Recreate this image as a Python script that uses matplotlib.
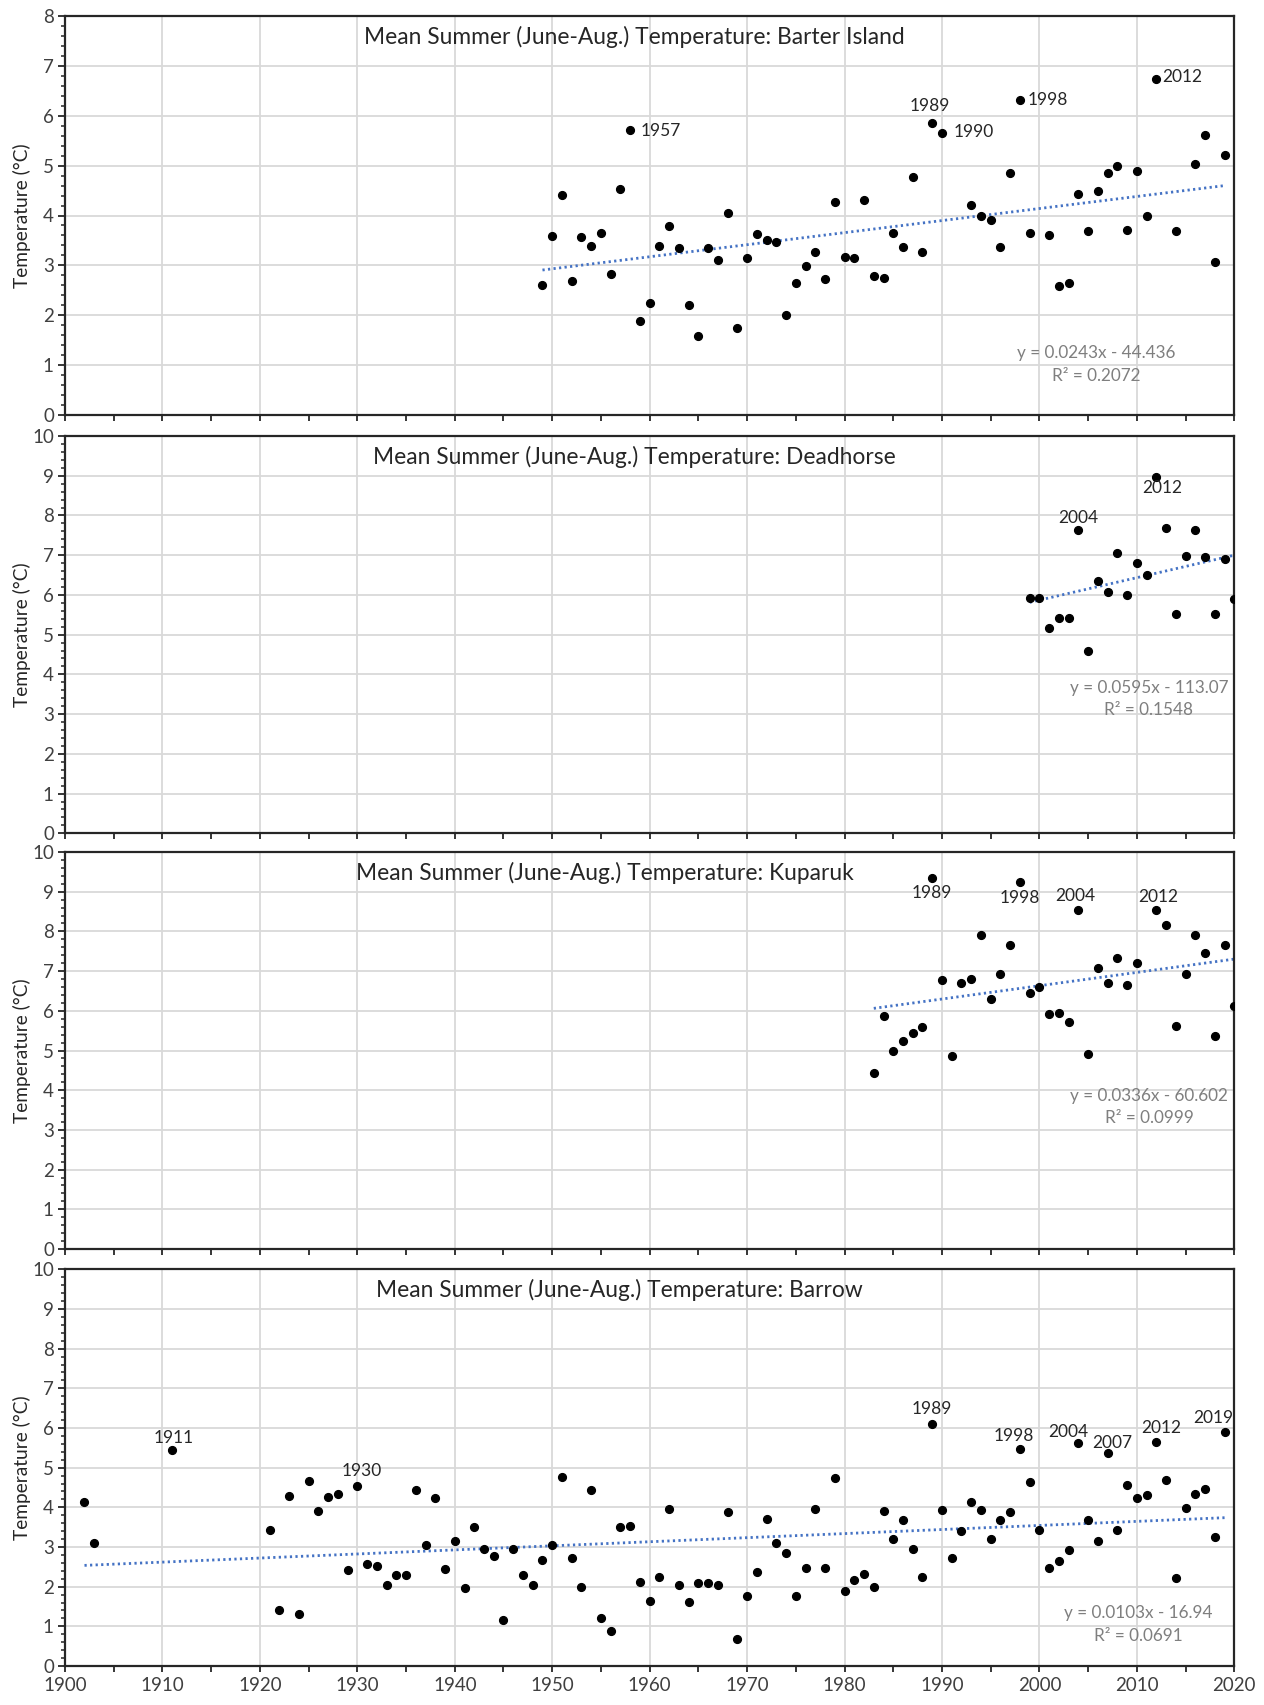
import numpy as np
import matplotlib
matplotlib.use("Agg")
import matplotlib.pyplot as plt
from matplotlib.ticker import MultipleLocator

plt.rcParams['font.family'] = ['Lato', 'DejaVu Sans']

# ---- data ----
barter_years = [1949, 1950, 1951, 1952, 1953, 1954, 1955, 1956, 1957, 1958,
                1959, 1960, 1961, 1962, 1963, 1964, 1965, 1966, 1967, 1968,
                1969, 1970, 1971, 1972, 1973, 1974, 1975, 1976, 1977, 1978,
                1979, 1980, 1981, 1982, 1983, 1984, 1985, 1986, 1987, 1988,
                1989, 1990, 1993, 1994, 1995, 1996, 1997, 1998, 1999, 2001,
                2002, 2003, 2004, 2005, 2006, 2007, 2008, 2009, 2010, 2011,
                2012, 2014, 2016, 2017, 2018, 2019]
barter_temp = [2.60, 3.58, 4.41, 2.68, 3.57, 3.39, 3.64, 2.83, 4.53, 5.72,
               1.89, 2.25, 3.39, 3.79, 3.34, 2.21, 1.58, 3.34, 3.11, 4.05,
               1.74, 3.14, 3.62, 3.51, 3.46, 2.00, 2.65, 2.99, 3.26, 2.73,
               4.27, 3.16, 3.15, 4.31, 2.79, 2.75, 3.64, 3.37, 4.77, 3.26,
               5.86, 5.65, 4.21, 3.99, 3.91, 3.37, 4.85, 6.31, 3.64, 3.60,
               2.59, 2.65, 4.43, 3.68, 4.49, 4.85, 5.00, 3.71, 4.90, 3.99,
               6.73, 3.68, 5.04, 5.62, 3.07, 5.22]

deadhorse_years = list(range(1999, 2021))
deadhorse_temp = [5.92, 5.92, 5.17, 5.42, 5.42, 7.63, 4.60, 6.36, 6.07, 7.06,
                  5.99, 6.81, 6.49, 8.98, 7.69, 5.52, 6.98, 7.63, 6.96, 5.52,
                  6.91, 5.89]

kuparuk_years = [1983, 1984, 1985, 1986, 1987, 1988, 1989, 1990, 1991, 1992,
                 1993, 1994, 1995, 1996, 1997, 1998, 1999, 2000, 2001, 2002,
                 2003, 2004, 2005, 2006, 2007, 2008, 2009, 2010, 2012, 2013,
                 2014, 2015, 2016, 2017, 2018, 2019, 2020]
kuparuk_temp = [4.43, 5.86, 5.00, 5.25, 5.44, 5.59, 9.35, 6.77, 4.87, 6.71,
                6.81, 7.90, 6.29, 6.93, 7.65, 9.24, 6.46, 6.59, 5.91, 5.94,
                5.72, 8.55, 4.92, 7.08, 6.71, 7.33, 6.66, 7.20, 8.55, 8.17,
                5.62, 6.93, 7.90, 7.46, 5.37, 7.65, 6.11]

barrow_years = [1902, 1903, 1911] + list(range(1921, 2020))
barrow_temp = [4.13, 3.09, 5.44,
               3.43, 1.42, 4.28, 1.30, 4.67, 3.91, 4.25, 4.34, 2.42, 4.55,
               2.57, 2.52, 2.05, 2.29, 2.29, 4.43, 3.04, 4.23, 2.44, 3.16,
               1.97, 3.50, 2.96, 2.78, 1.15, 2.94, 2.29, 2.05, 2.68, 3.04,
               4.77, 2.73, 2.00, 4.43, 1.22, 0.88, 3.50, 3.53, 2.11, 1.64,
               2.24, 3.96, 2.05, 1.62, 2.10, 2.08, 2.05, 3.88, 0.68, 1.77,
               2.36, 3.71, 3.09, 2.86, 1.77, 2.47, 3.96, 2.47, 4.75, 1.90,
               2.17, 2.31, 1.99, 3.91, 3.19, 3.68, 2.94, 2.24, 6.11, 3.93,
               2.71, 3.41, 4.13, 3.93, 3.21, 3.68, 3.88, 5.47, 4.63, 3.42,
               2.47, 2.64, 2.92, 5.62, 3.68, 3.14, 5.37, 3.43, 4.57, 4.23,
               4.30, 5.64, 4.70, 2.22, 3.98, 4.33, 4.45, 3.24, 5.91]

stations = ["Barter Island", "Deadhorse", "Kuparuk", "Barrow"]
y_max = [8, 10, 10, 10]
trend_end = [2019, 2020, 2020, 2019]
equations = ["y = 0.0243x - 44.436", "y = 0.0595x - 113.07",
             "y = 0.0336x - 60.602", "y = 0.0103x - 16.94"]
r_squared = ["R² = 0.2072", "R² = 0.1548", "R² = 0.0999", "R² = 0.0691"]

# year labels: (point year, label, dx pt, dy pt, ha)
labels = [
    [(1958, "1957", 7.4, -0.7, "left"), (1989, "1989", -2, 12, "center"),
     (1990, "1990", 8.2, 0.7, "left"), (1998, "1998", 5.5, 0.5, "left"),
     (2012, "2012", 3.9, 1.7, "left")],
    [(2004, "2004", 0, 8.6, "center"), (2012, "2012", 4, -8.4, "center")],
    [(1989, "1989", -0.4, -11.2, "center"), (1998, "1998", -0.4, -11.7, "center"),
     (2004, "2004", -1.9, 10, "center"), (2012, "2012", 1.6, 9.4, "center")],
    [(1911, "1911", 1.3, 8.6, "center"), (1930, "1930", 3.1, 10.5, "center"),
     (1989, "1989", 0, 10.6, "center"), (1998, "1998", -4.2, 9.1, "center"),
     (2004, "2004", -7, 7.7, "center"), (2007, "2007", 3.5, 7.2, "center"),
     (2012, "2012", 3.7, 10.4, "center"), (2019, "2019", -8.1, 9.9, "center")],
]

# ---- layout ----
W, H = 1264, 1705
boxes = [(16, 415), (436, 833.3), (852, 1249), (1269.3, 1666)]
eq_pos = [(0.882, 0.156, 0.0985), (0.927, 0.366, 0.310),
          (0.927, 0.385, 0.329), (0.918, 0.133, 0.0756)]
title_x = [0.487, 0.487, 0.462, 0.474]

all_years = [barter_years, deadhorse_years, kuparuk_years, barrow_years]
all_temps = [barter_temp, deadhorse_temp, kuparuk_temp, barrow_temp]

fig = plt.figure(figsize=(W / 100, H / 100), dpi=100)
text_col = "#262626"
tick_col = "#404040"

for i in range(4):
    top, bot = boxes[i]
    ax = fig.add_axes([65 / W, 1 - bot / H, 1169.3 / W, (bot - top) / H])
    yrs = np.array(all_years[i])
    tmp = np.array(all_temps[i])

    ax.plot(yrs, tmp, 'o', color='black', markersize=5.6, zorder=3)

    # linear trendline, as in the spreadsheet
    slope, icpt = np.polyfit(yrs, tmp, 1)
    tx = np.array([yrs.min(), trend_end[i]])
    ax.plot(tx, slope * tx + icpt, color='#4472C4', lw=2.0,
            linestyle=(0, (0.8, 1.2)), zorder=2)

    ax.set_xlim(1900, 2020)
    ax.set_ylim(0, y_max[i])
    ax.xaxis.set_major_locator(MultipleLocator(10))
    ax.xaxis.set_minor_locator(MultipleLocator(5))
    ax.yaxis.set_major_locator(MultipleLocator(1))
    ax.yaxis.set_minor_locator(MultipleLocator(0.2))
    ax.grid(True, which='major', color='#d9d9d9', lw=1.3, zorder=0)
    ax.set_axisbelow(True)

    for s in ax.spines.values():
        s.set_color('#262626')
        s.set_linewidth(1.6)

    ax.tick_params(axis='y', which='major', direction='out', length=5,
                   width=1.3, color='#262626', labelsize=13.5,
                   labelcolor=tick_col, pad=3)
    ax.tick_params(axis='y', which='minor', direction='out', length=3,
                   width=1.1, color='#262626')
    ax.tick_params(axis='x', which='both', direction='out', length=4,
                   width=1.3, color='#262626', labelsize=13.5,
                   labelcolor=tick_col, pad=4)
    if i < 3:
        ax.tick_params(axis='x', labelbottom=False)

    ax.set_ylabel("Temperature (°C)", fontsize=13.8, color=text_col)
    ax.yaxis.set_label_coords(-0.029, 0.5)

    ax.text(title_x[i], 1 - 20.5 / (bot - top),
            "Mean Summer (June-Aug.) Temperature: " + stations[i],
            transform=ax.transAxes, ha='center', va='center',
            fontsize=16.4, color=text_col)

    ex, ey, ry = eq_pos[i]
    ax.text(ex, ey, equations[i], transform=ax.transAxes, ha='center',
            va='center', fontsize=12.3, color='#7f7f7f')
    ax.text(ex, ry, r_squared[i], transform=ax.transAxes, ha='center',
            va='center', fontsize=12.3, color='#7f7f7f')

    for yr, txt, dx, dy, ha in labels[i]:
        val = tmp[list(yrs).index(yr)]
        ax.annotate(txt, (yr, val), xytext=(dx, dy), textcoords='offset points',
                    ha=ha, va='center', fontsize=12.5, color=text_col)

fig.savefig("out.png", dpi=100)
